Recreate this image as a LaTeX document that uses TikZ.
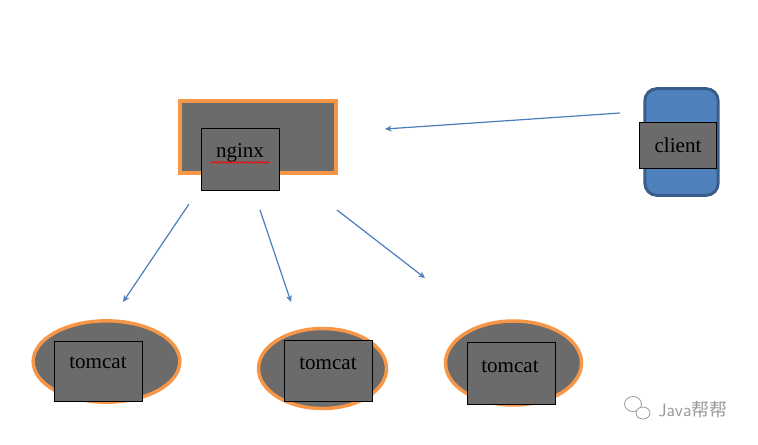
\documentclass[tikz,border=0pt]{standalone}
\usepackage{fontspec}
\setmainfont{Liberation Serif}
\newfontfamily\cjkfont{Noto Sans CJK SC}
\usetikzlibrary{arrows.meta, positioning, shapes.geometric, decorations.pathmorphing}
\definecolor{boxgray}{HTML}{6B6B6B}
\definecolor{frameorange}{HTML}{F79646}
\definecolor{clientblue}{HTML}{4F81BD}
\definecolor{clientedge}{HTML}{385D8A}
\definecolor{arrowblue}{HTML}{4A7EBB}
\definecolor{markgray}{HTML}{9A9A9A}
\tikzset{
  server/.style={rectangle,draw=frameorange,fill=boxgray,line width=3pt,minimum width=117pt,minimum height=54pt},
  backend/.style={ellipse,draw=frameorange,fill=boxgray,line width=2.6pt,inner sep=0pt},
  clientbody/.style={rectangle,draw=clientedge,fill=clientblue,line width=2.2pt,rounded corners=9pt,minimum width=55pt,minimum height=80pt},
  label/.style={rectangle,draw=black,fill=boxgray,line width=0.7pt,inner sep=0pt,font=\fontsize{15.8}{18}\selectfont},
  line/.style={draw=arrowblue,line width=0.9pt,-{Stealth[length=5pt,width=4.5pt]}}
}

\begin{document}
\begin{tikzpicture}[x=0.75pt,y=-0.75pt]
\useasboundingbox (0,0) rectangle (758,444);
% front end
\node[server] (nginx) at (257.5,137) {};
\node[label, minimum width=59pt, minimum height=46pt] (nginxtext) at (240.5,159.5) {};
\node[font=\fontsize{15.8}{18}\selectfont] (nginxname) at (240,153) {nginx};
\draw[red, line width=0.6pt, decorate, decoration={snake, amplitude=0.6pt, segment length=2.6pt}]
  ([xshift=-0.5pt,yshift=-3.5pt]nginxname.base west) -- ([xshift=0.5pt,yshift=-3.5pt]nginxname.base east);
% client
\node[clientbody] (client) at (681.5,142) {};
\node[label, minimum width=58pt, minimum height=34pt] (clienttext) at (678,145.5) {client};
% tomcats
\node[backend, minimum width=110pt, minimum height=61pt] (tomcatA) at (106.5,361.5) {};
\node[label, minimum width=66pt, minimum height=45pt] (tomcatAtext) at (98,371) {};
\node[font=\fontsize{15.8}{18}\selectfont] at (98,363) {tomcat};
\node[backend, minimum width=96pt, minimum height=60pt] (tomcatB) at (322.5,368.5) {};
\node[label, minimum width=66pt, minimum height=46pt] (tomcatBtext) at (328,371) {};
\node[font=\fontsize{15.8}{18}\selectfont] at (328,364) {tomcat};
\node[backend, minimum width=102pt, minimum height=63pt] (tomcatC) at (513.5,363) {};
\node[label, minimum width=66pt, minimum height=46pt] (tomcatCtext) at (511,373.5) {};
\node[font=\fontsize{15.8}{18}\selectfont] at (510,367) {tomcat};
% arrow ends
\coordinate (fromclient) at (620,113);
\coordinate (tonginx) at (385,129);
\coordinate (outA) at (189,204);
\coordinate (outB) at (260,210);
\coordinate (outC) at (337,210);
\coordinate (inA) at (123,302);
\coordinate (inB) at (291,302);
\coordinate (inC) at (425,278);
\draw[line] (fromclient) -- (tonginx);
\draw[line] (outA) -- (inA);
\draw[line] (outB) -- (inB);
\draw[line] (outC) -- (inC);
% watermark
\node[markgray, font=\sffamily\fontsize{13.5}{16}\selectfont, inner sep=0pt, anchor=west] (mark) at (658,410) {Java{\cjkfont 帮帮}};
\draw[markgray, line width=0.6pt, fill=white] (633,404) ellipse (8.5 and 7.5);
\draw[markgray, line width=0.6pt, fill=white] (643,413) ellipse (7 and 6);
\end{tikzpicture}
\end{document}
